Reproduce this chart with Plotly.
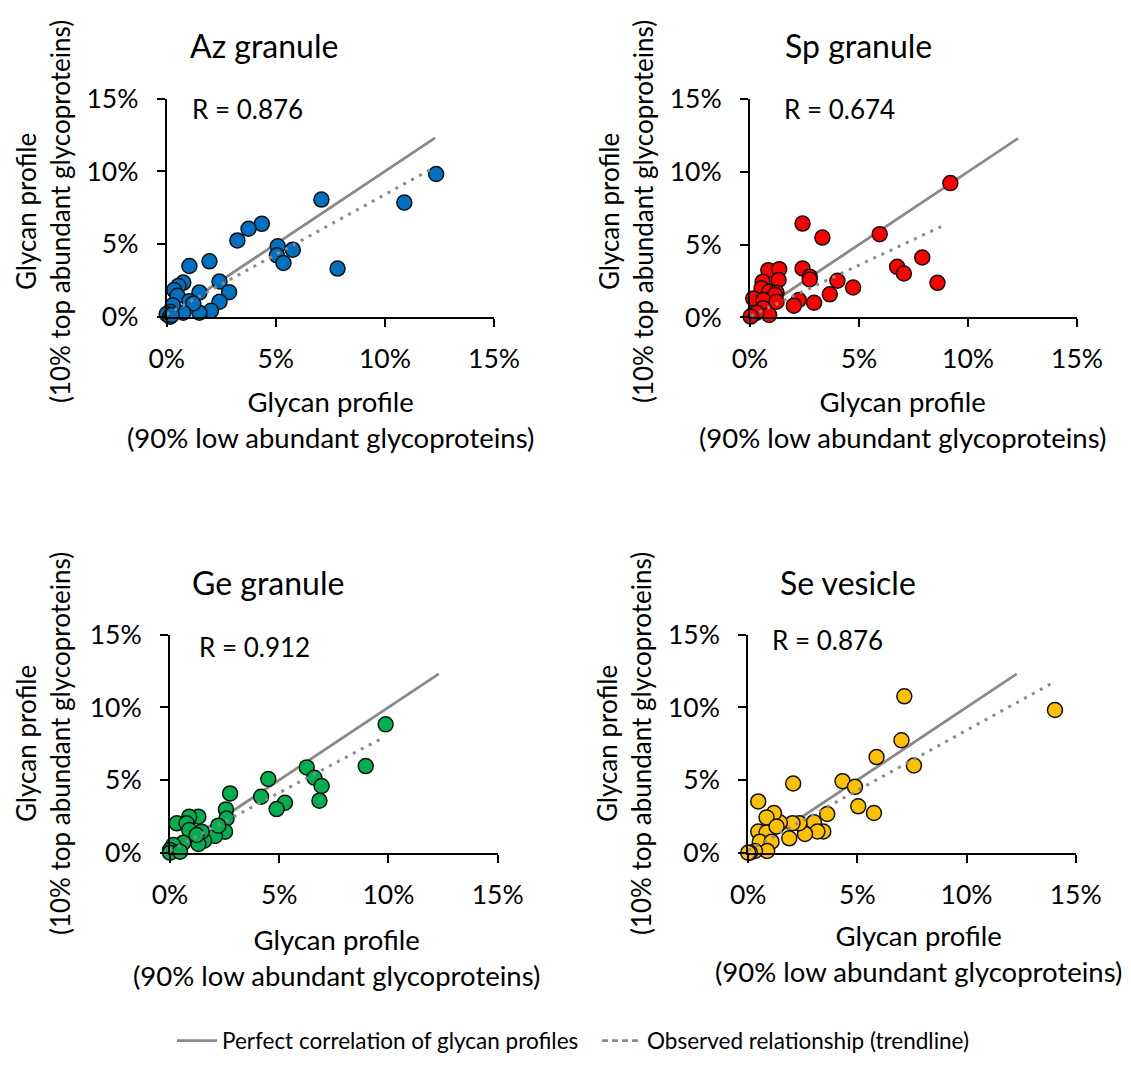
import plotly.graph_objects as go

# ---------------- data (percent values) ----------------
panel_titles = ["Az granule", "Sp granule", "Ge granule", "Se vesicle"]
r_labels = ["R = 0.876", "R = 0.674", "R = 0.912", "R = 0.876"]
marker_colors = ["#0070C0", "#FF0000", "#00B050", "#FFC000"]

az_x = [12.35, 10.89, 7.09, 7.83, 4.36, 3.75, 3.24, 5.09, 5.78, 5.05, 5.35, 1.96, 1.04, 2.42, 2.86, 2.42,
        2.03, 1.50, 1.50, 0.76, 0.54, 0.34, 0.49, 1.04, 1.22, 0.76, 0.28, 0.15, 0.00, 0.15, 0.23]
az_y = [9.82, 7.85, 8.06, 3.31, 6.39, 6.05, 5.25, 4.84, 4.61, 4.22, 3.70, 3.81, 3.49, 2.42, 1.69, 1.03,
        0.41, 0.27, 1.67, 2.35, 2.12, 1.83, 1.44, 1.07, 0.91, 0.27, 0.78, 0.34, 0.18, 0.00, 0.11]

sp_x = [9.19, 5.95, 2.41, 3.32, 7.90, 6.75, 7.06, 8.60, 4.73, 4.01, 3.66, 2.94, 2.24, 2.01, 2.41, 2.74,
        2.74, 0.84, 1.34, 0.58, 1.31, 0.53, 0.88, 1.22, 1.14, 0.15, 0.61, 1.22, 0.61, 0.88, 0.15, 0.30, 0.03]
sp_y = [9.22, 5.71, 6.44, 5.48, 4.11, 3.47, 3.01, 2.37, 2.05, 2.51, 1.58, 1.00, 1.19, 0.80, 3.36, 2.79,
        2.60, 3.24, 3.31, 2.44, 2.56, 1.99, 1.76, 1.69, 1.53, 1.30, 1.19, 1.07, 0.62, 0.16, 0.21, 0.32, 0.05]

ge_x = [9.87, 8.96, 6.26, 6.61, 6.94, 6.84, 4.50, 4.17, 5.26, 4.88, 2.75, 2.56, 2.59, 2.52, 2.06, 2.21,
        1.56, 1.30, 1.30, 0.88, 0.31, 0.76, 0.88, 1.45, 0.61, 0.15, 0.00, 0.00, 0.46, 1.22]
ge_y = [8.83, 5.96, 5.87, 5.16, 4.59, 3.58, 5.07, 3.85, 3.44, 3.00, 4.08, 2.98, 2.36, 1.45, 1.15, 1.86,
        0.83, 0.60, 2.48, 2.48, 2.02, 2.02, 1.56, 1.45, 0.69, 0.53, 0.18, 0.00, 0.07, 1.22]

se_x = [14.05, 7.15, 7.02, 7.59, 5.88, 4.32, 4.89, 5.04, 5.76, 2.06, 0.46, 3.62, 3.01, 3.44, 3.17, 2.60,
        1.88, 2.34, 2.03, 1.45, 1.18, 0.84, 0.46, 0.84, 0.53, 1.07, 0.87, 0.31, 0.08, 0.00, 1.30]
se_y = [9.82, 10.76, 7.74, 6.00, 6.58, 4.92, 4.53, 3.19, 2.73, 4.76, 3.53, 2.66, 2.10, 1.46, 1.46, 1.29,
        0.99, 2.03, 2.03, 2.08, 2.73, 2.43, 1.46, 1.39, 0.76, 0.76, 0.12, 0.12, 0.00, 0.00, 1.80]

# perfect correlation line (y = x) end points
perfect_x = [0.0, 12.3]
perfect_y = [0.0, 12.3]

# observed trendline end points
az_trend_x, az_trend_y = [0.0, 12.3], [0.16, 10.3]
sp_trend_x, sp_trend_y = [0.05, 9.0], [0.10, 6.4]
ge_trend_x, ge_trend_y = [0.0, 9.8], [0.15, 7.95]
se_trend_x, se_trend_y = [0.0, 13.9], [0.15, 11.65]

tick_vals = [0, 5, 10, 15]
tick_text = ["0%", "5%", "10%", "15%"]
x_title = "Glycan profile<br>(90% low abundant glycoproteins)"
y_title = "Glycan profile<br>(10% top abundant glycoproteins)"
legend_names = ["Perfect correlation of glycan profiles", "Observed relationship (trendline)"]

# ---------------- layout helpers ----------------
W, H = 1115, 1068
OX, OY = 8, 8
FONT = "Lato"


def px(x):
    return (x - OX) / W


def py(y):
    return 1 - (y - OY) / H


# plot area pixel boxes: (left, right, top, bottom)
boxes = [(166.7, 494.0, 98.7, 316.7),
         (750.0, 1077.0, 99.0, 317.3),
         (170.0, 497.7, 634.7, 852.7),
         (748.2, 1075.7, 634.7, 852.7)]
title_pos = [(264, 45), (858, 45), (268, 582), (848, 582)]
r_pos = [(190, 109), (782, 109), (197, 647), (770, 640)]
xt_pos = [(330, 402), (902, 402), (336, 940), (918, 936)]
yt_pos = [(43, 212), (626, 212), (43, 744), (624, 744)]

xs = [az_x, sp_x, ge_x, se_x]
ys = [az_y, sp_y, ge_y, se_y]
txs = [az_trend_x, sp_trend_x, ge_trend_x, se_trend_x]
tys = [az_trend_y, sp_trend_y, ge_trend_y, se_trend_y]

LINE_GREY = "#8a8a8a"

fig = go.Figure()
annotations = []
layout_axes = {}

for i in range(4):
    n = "" if i == 0 else str(i + 1)
    xa, ya = "x" + n, "y" + n
    l, r, t, b = boxes[i]
    # perfect correlation line (behind markers)
    fig.add_trace(go.Scatter(x=perfect_x, y=perfect_y, xaxis=xa, yaxis=ya, mode="lines",
                             line=dict(color=LINE_GREY, width=2.8), showlegend=False,
                             hoverinfo="skip", cliponaxis=False))
    # data points
    fig.add_trace(go.Scatter(x=xs[i], y=ys[i], xaxis=xa, yaxis=ya, mode="markers",
                             marker=dict(size=15, color=marker_colors[i],
                                         line=dict(color="#111111", width=1.5)),
                             showlegend=False, cliponaxis=False, name=panel_titles[i]))
    # observed trendline (on top)
    fig.add_trace(go.Scatter(x=txs[i], y=tys[i], xaxis=xa, yaxis=ya, mode="lines",
                             line=dict(color=LINE_GREY, width=3, dash="3px,6px"), showlegend=False,
                             hoverinfo="skip", cliponaxis=False))

    axis_common = dict(range=[0, 15], tickvals=tick_vals, ticktext=tick_text, showgrid=False,
                       zeroline=False, showline=True, linecolor="black", linewidth=2,
                       ticks="outside", ticklen=8, tickwidth=2, tickcolor="black", automargin=False,
                       tickfont=dict(family=FONT, size=26.5, color="black"), fixedrange=True)
    layout_axes["xaxis" + n] = dict(axis_common, domain=[px(l), px(r)], anchor=ya,
                                    ticklabelstandoff=9)
    layout_axes["yaxis" + n] = dict(axis_common, domain=[py(b), py(t)], anchor=xa,
                                    ticklabelstandoff=13)

    annotations.append(dict(text=panel_titles[i], x=px(title_pos[i][0]), y=py(title_pos[i][1]),
                            xref="paper", yref="paper", showarrow=False, xanchor="center",
                            yanchor="middle", font=dict(family=FONT, size=32, color="black")))
    annotations.append(dict(text=r_labels[i], x=px(r_pos[i][0]), y=py(r_pos[i][1]),
                            xref="paper", yref="paper", showarrow=False, xanchor="left",
                            yanchor="middle", font=dict(family=FONT, size=26, color="black")))
    annotations.append(dict(text=x_title, x=px(xt_pos[i][0]), y=py(xt_pos[i][1] + 17),
                            xref="paper", yref="paper", showarrow=False, xanchor="center",
                            yanchor="middle", font=dict(family=FONT, size=27.5, color="black")))
    annotations.append(dict(text=y_title, x=px(yt_pos[i][0]), y=py(yt_pos[i][1]),
                            xref="paper", yref="paper", showarrow=False, xanchor="center",
                            yanchor="middle", textangle=-90, borderpad=0,
                            font=dict(family=FONT, size=26, color="black")))

# legend-only entries
fig.add_trace(go.Scatter(x=[None], y=[None], mode="lines", name=legend_names[0],
                         line=dict(color=LINE_GREY, width=2.8)))
fig.add_trace(go.Scatter(x=[None], y=[None], mode="lines", name=legend_names[1],
                         line=dict(color=LINE_GREY, width=2.8, dash="6px,4px")))

fig.update_layout(
    template="none",
    width=W, height=H,
    margin=dict(l=0, r=0, t=0, b=0, pad=0, autoexpand=False),
    paper_bgcolor="white", plot_bgcolor="white",
    font=dict(family=FONT, color="black"),
    annotations=annotations,
    showlegend=True,
    legend=dict(orientation="h", x=px(172), xanchor="left", y=py(1041), yanchor="middle",
                font=dict(family=FONT, size=22.5, color="black"), bgcolor="rgba(0,0,0,0)",
                itemwidth=40, entrywidth=370, entrywidthmode="pixels", traceorder="normal"),
    **layout_axes,
)

fig.write_html("out.html")
